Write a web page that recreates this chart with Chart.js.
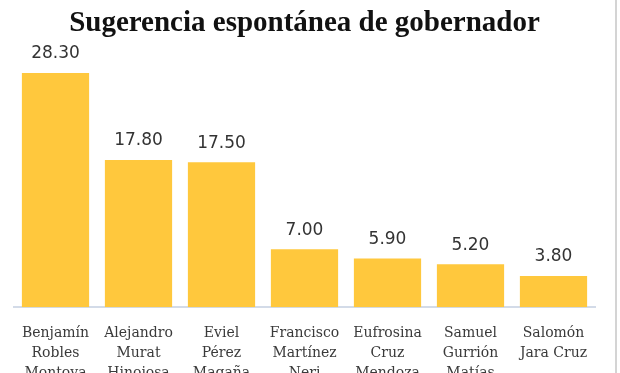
<!DOCTYPE html>
<html>
<head>
<meta charset="utf-8">
<script src="https://cdn.jsdelivr.net/npm/chart.js@4"></script>
<style>
  html, body { margin: 0; padding: 0; background: #fff; overflow: hidden; }
  #wrap { position: relative; width: 620px; height: 391px; }
  #edge { position: absolute; left: 615px; top: 0; width: 2px; height: 391px; background: #d4d4d4; }
</style>
</head>
<body>
<div id="wrap">
  <canvas id="c" width="620" height="391"></canvas>
  <div id="edge"></div>
</div>
<script>
const title = "Sugerencia espontánea de gobernador";
const categories = [
  ["Benjamín", "Robles", "Montoya"],
  ["Alejandro", "Murat", "Hinojosa"],
  ["Eviel", "Pérez", "Magaña"],
  ["Francisco", "Martínez", "Neri"],
  ["Eufrosina", "Cruz", "Mendoza"],
  ["Samuel", "Gurrión", "Matías"],
  ["Salomón", "Jara Cruz"]
];
const values = [28.30, 17.80, 17.50, 7.00, 5.90, 5.20, 3.80];

const valueLabels = {
  id: 'valueLabels',
  afterDatasetsDraw(chart) {
    const ctx = chart.ctx;
    const meta = chart.getDatasetMeta(0);
    ctx.save();
    ctx.font = '17px "DejaVu Sans"';
    ctx.fillStyle = '#333333';
    ctx.textAlign = 'center';
    ctx.textBaseline = 'middle';
    meta.data.forEach((bar, i) => {
      ctx.fillText(values[i].toFixed(2), bar.x, bar.y - 19);
    });
    ctx.restore();
  }
};

new Chart(document.getElementById('c'), {
  type: 'bar',
  data: {
    labels: categories,
    datasets: [{
      data: values,
      backgroundColor: '#FFC83D',
      borderWidth: 0,
      barPercentage: 0.81,
      categoryPercentage: 1.0
    }]
  },
  options: {
    responsive: false,
    animation: false,
    devicePixelRatio: 1,
    layout: { padding: { left: 14, right: 25, top: 0, bottom: 0 } },
    plugins: {
      legend: { display: false },
      tooltip: { enabled: false },
      title: {
        display: true,
        text: title,
        color: '#111111',
        font: { family: '"Liberation Serif"', size: 29, weight: 'bold' },
        padding: { top: 6, bottom: 18 }
      }
    },
    scales: {
      x: {
        grid: { display: false },
        border: { display: true, color: '#d3dbe8', width: 2 },
        ticks: {
          color: '#3a3a3a',
          font: { family: '"DejaVu Serif"', size: 14, lineHeight: 1.42 },
          padding: 8,
          maxRotation: 0,
          autoSkip: false
        }
      },
      y: {
        display: false,
        min: 0,
        max: 30
      }
    }
  },
  plugins: [valueLabels]
});
</script>
</body>
</html>
